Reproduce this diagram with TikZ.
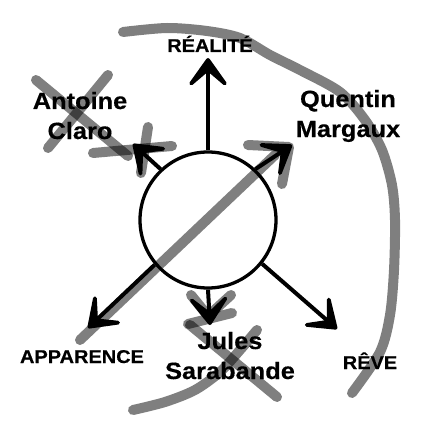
\documentclass[tikz,border=0pt]{standalone}
\usepackage{fontspec}
\newfontfamily\namefont{Liberation Sans}[FakeStretch=1.08,BoldFeatures={FakeBold=0.4}]
\usepackage{tikz}
\usetikzlibrary{arrows.meta}

\begin{document}
\begin{tikzpicture}[x=1pt,y=-1pt,
	ray/.style={line width=4pt,-{Stealth[length=38pt,width=54pt,inset=23pt,round]}},
	scribble/.style={line width=10pt,black,opacity=0.5,line cap=round,line join=round},
	person/.style={font=\namefont\bfseries\fontsize{23.5}{30}\selectfont,align=center,anchor=base,inner sep=0pt},
	polelabel/.style={font=\namefont\bfseries\fontsize{18.5}{22}\selectfont,anchor=base,inner sep=0pt}]
	
	\useasboundingbox (0,0) rectangle (433,433);
	
	% centre
	\node[circle,draw,line width=3.3pt,fill=white,minimum size=136pt,inner sep=0pt] (c) at (208,220) {};
	
	% labels (base = last line)
	\node[polelabel] (real) at (210,52) {RÉALITÉ};
	\node[polelabel] (appa) at (82,363) {APPARENCE};
	\node[polelabel] (reve) at (370,369) {RÊVE};
	\node[person] (antoine) at (80,139) {Antoine\\Claro};
	\node[person] (quentin) at (348,137) {Quentin\\Margaux};
	\node[person] (jules) at (230,379) {Jules\\Sarabande};
	
	% arrow tips
	\coordinate (treal) at (208,58);
	\coordinate (tantoine) at (133,144);
	\coordinate (tquentin) at (292,145);
	\coordinate (tappa) at (88,328);
	\coordinate (tjules) at (210,325);
	\coordinate (treve) at (337,329);
	
	% arrows
	\draw[ray] (c.90) -- (treal);
	\draw[ray] (c.133) -- (tantoine);
	\draw[ray] (c.47) -- (tquentin);
	\draw[ray] (c.220) -- (tappa);
	\draw[ray] (c.270) -- (tjules);
	\draw[ray] (c.321) -- (treve);
	
	% grey strokes
	\draw[scribble] plot[smooth] coordinates {(123,32) (167,28) (207,31) (240,38) (270,55) (300,70) (340,92) (365,120) (382,150) (392,185) (395,220) (394,270) (390,315) (380,352) (352,393)};
	\draw[scribble] plot[smooth] coordinates {(257,330) (240,350) (220,372) (195,390) (165,402) (133,410)};
	\draw[scribble] (190,325) -- (277,397);
	\draw[scribble] (188,324) -- (232,313);
	\draw[scribble] (191,295) -- (208,316) -- (231,295);
	\draw[scribble] (80,340) -- (275,155);
	\draw[scribble] (248,145) -- (289,147) -- (282,184);
	\draw[scribble] (36,80) -- (128,156);
	\draw[scribble] (108,75) -- (48,148);
	\draw[scribble] (93,153) -- (172,146);
	\draw[scribble] (148,127) -- (141,173);
	
\end{tikzpicture}
\end{document}
